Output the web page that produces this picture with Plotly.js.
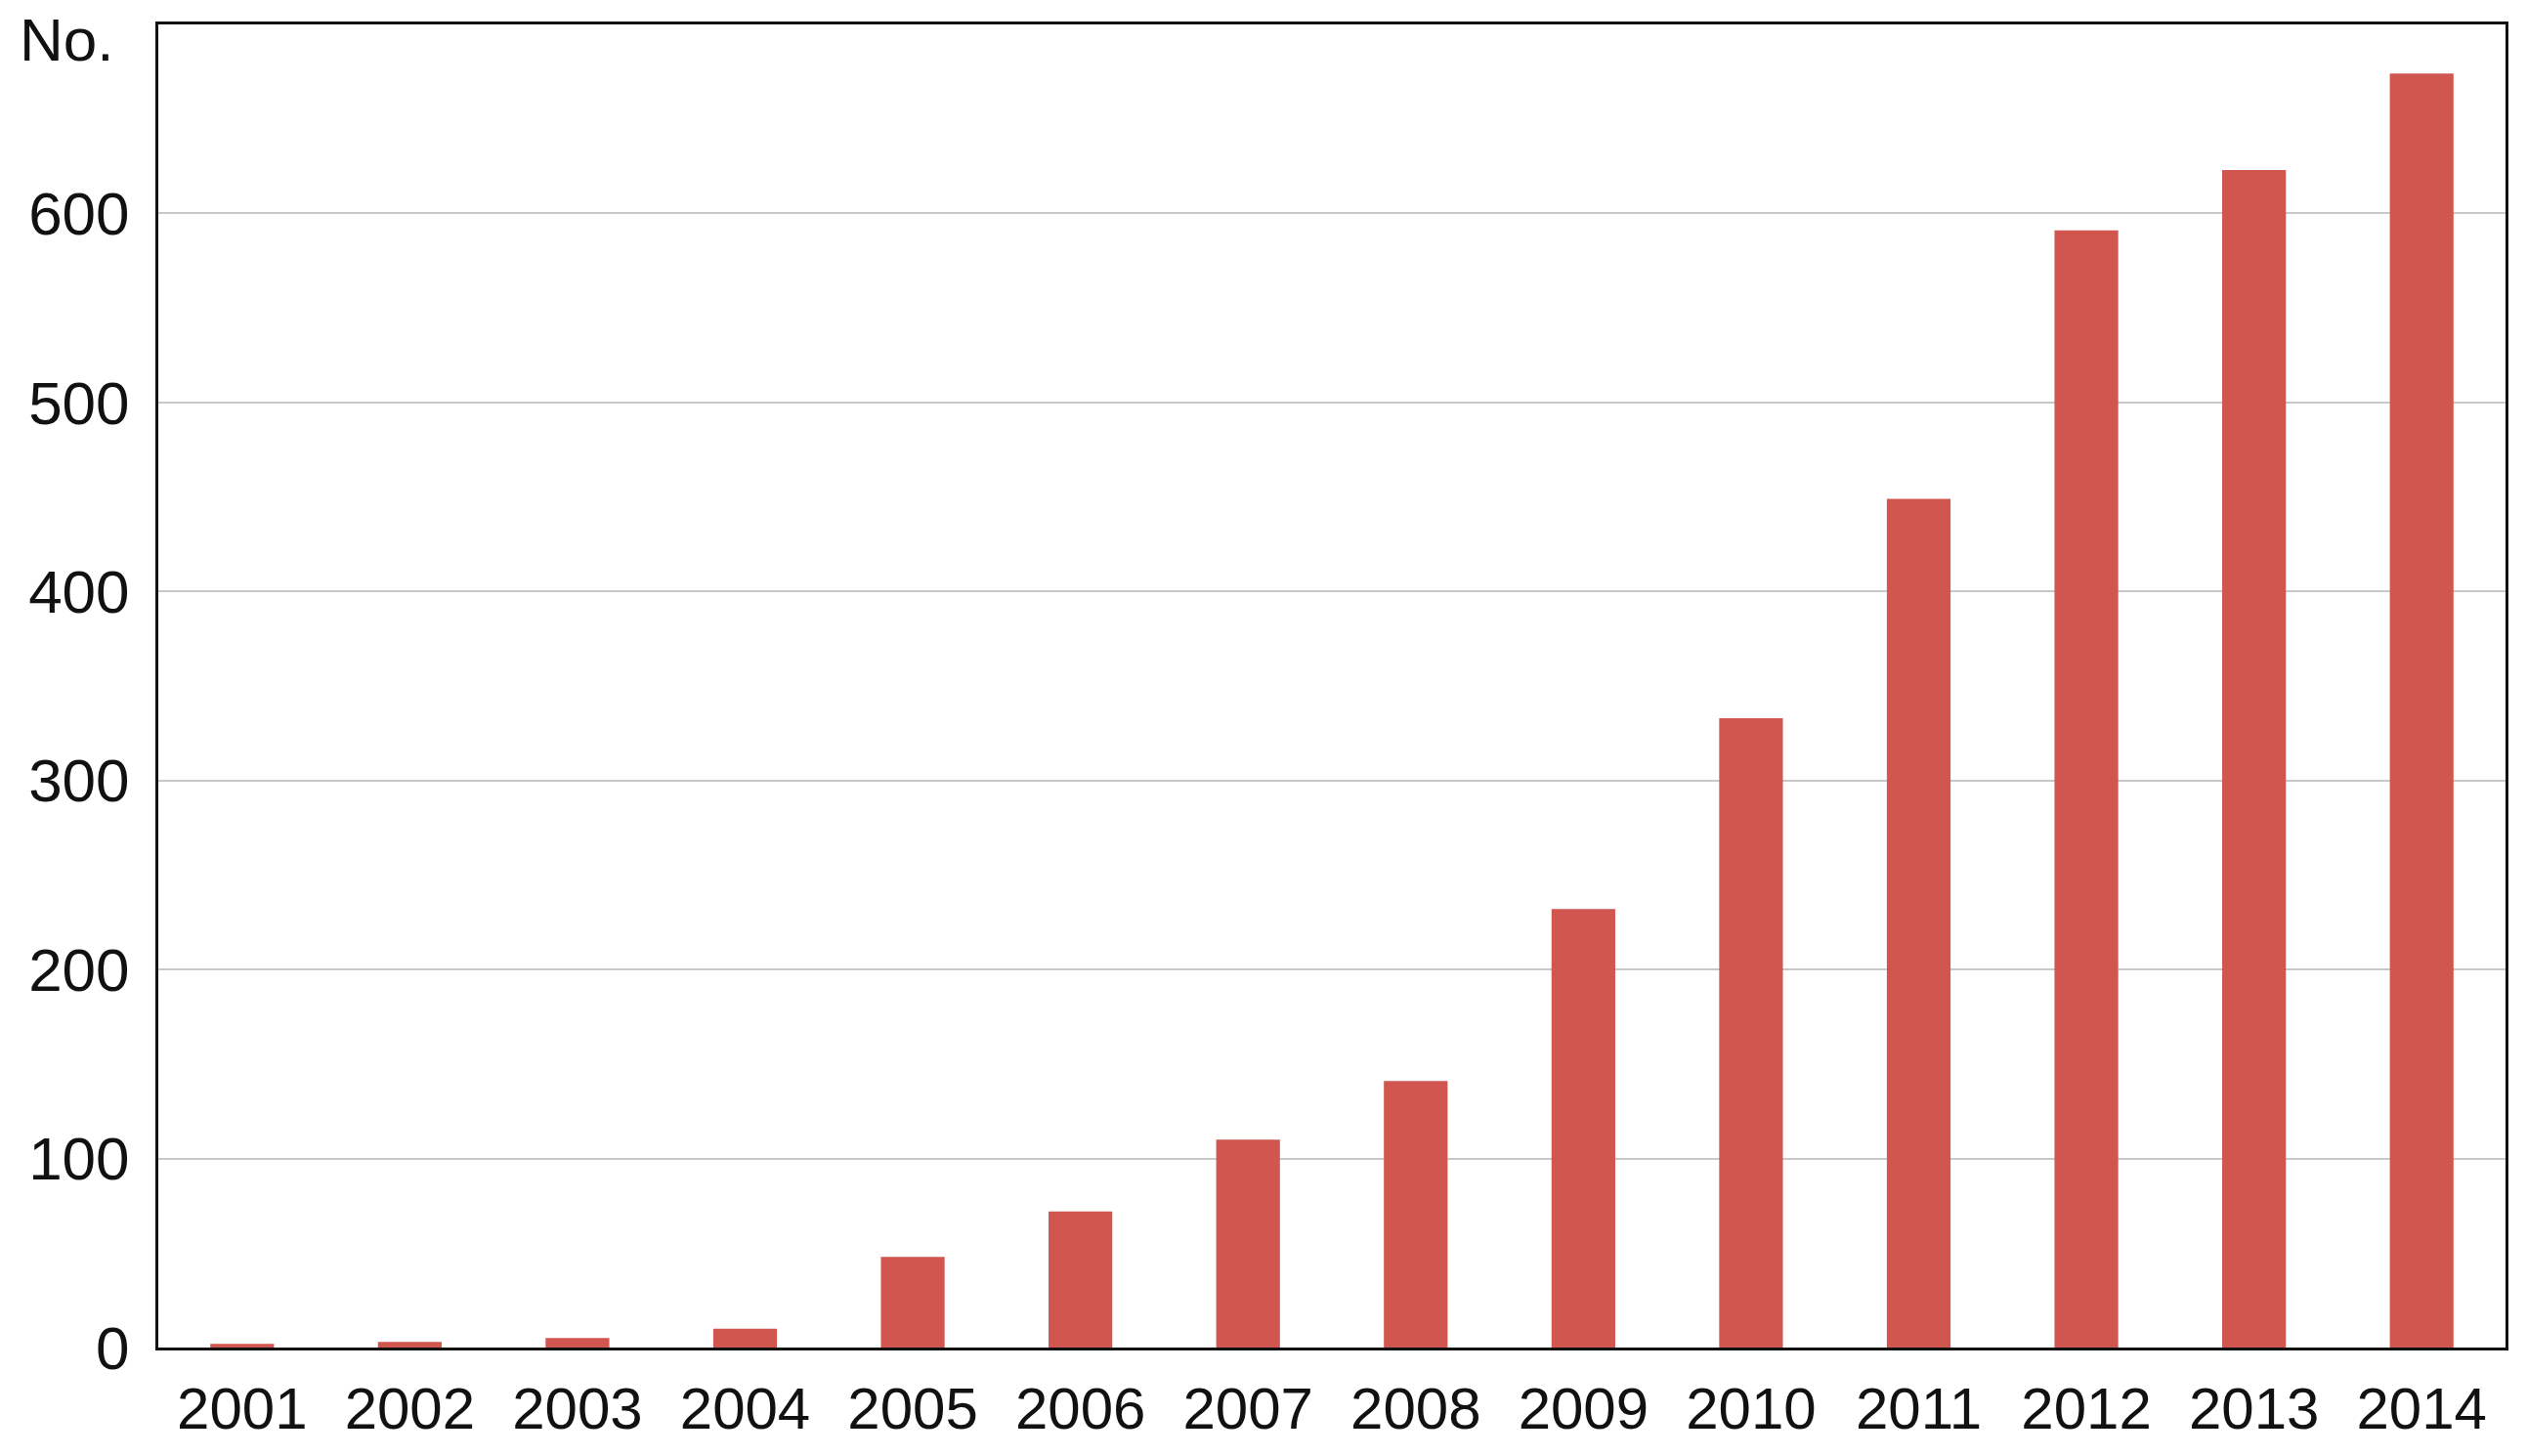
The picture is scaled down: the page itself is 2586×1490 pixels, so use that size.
<!DOCTYPE html>
<html>
<head>
<meta charset="utf-8">
<script src="https://cdn.plot.ly/plotly-3.0.1.min.js"></script>
<style>
  html, body { margin: 0; padding: 0; background: #fff; }
  #chart { width: 2586px; height: 1490px; }
</style>
</head>
<body>
<div id="chart"></div>
<script>
const years = ["2001", "2002", "2003", "2004", "2005", "2006", "2007",
               "2008", "2009", "2010", "2011", "2012", "2013", "2014"];
const counts = [2, 3, 5, 10, 48, 72, 110, 141, 232, 333, 449, 591, 623, 674];
const yTicks = [0, 100, 200, 300, 400, 500, 600];

const data = [{
    x: years,
    y: counts,
    type: "bar",
    marker: { color: "#d0564f" },
    hoverinfo: "x+y"
}];

const layout = {
    width: 2586,
    height: 1490,
    paper_bgcolor: "#fff",
    plot_bgcolor: "#fff",
    font: { family: "Liberation Sans, Arial, sans-serif", color: "#111", size: 62 },
    showlegend: false,
    bargap: 0.62,
    margin: { l: 162, r: 22, t: 25, b: 111, pad: 0 },
    xaxis: {
        type: "category",
        showgrid: false,
        showline: true,
        linecolor: "#111",
        linewidth: 3,
        mirror: true,
        ticks: "",
        ticklabelstandoff: 8,
        tickfont: { size: 60 }
    },
    yaxis: {
        range: [0, 700],
        tickvals: yTicks,
        showgrid: true,
        gridcolor: "#c8c8c8",
        gridwidth: 2,
        zeroline: false,
        showline: true,
        linecolor: "#111",
        linewidth: 3,
        mirror: true,
        ticks: "",
        ticklabelstandoff: 14,
        tickfont: { size: 62 }
    },
    annotations: [{
        text: "No.",
        xref: "paper",
        yref: "y",
        x: -0.06,
        y: 692,
        xanchor: "left",
        yanchor: "middle",
        showarrow: false,
        font: { size: 62 }
    }]
};

Plotly.newPlot("chart", data, layout, { displayModeBar: false, staticPlot: true });
</script>
</body>
</html>
